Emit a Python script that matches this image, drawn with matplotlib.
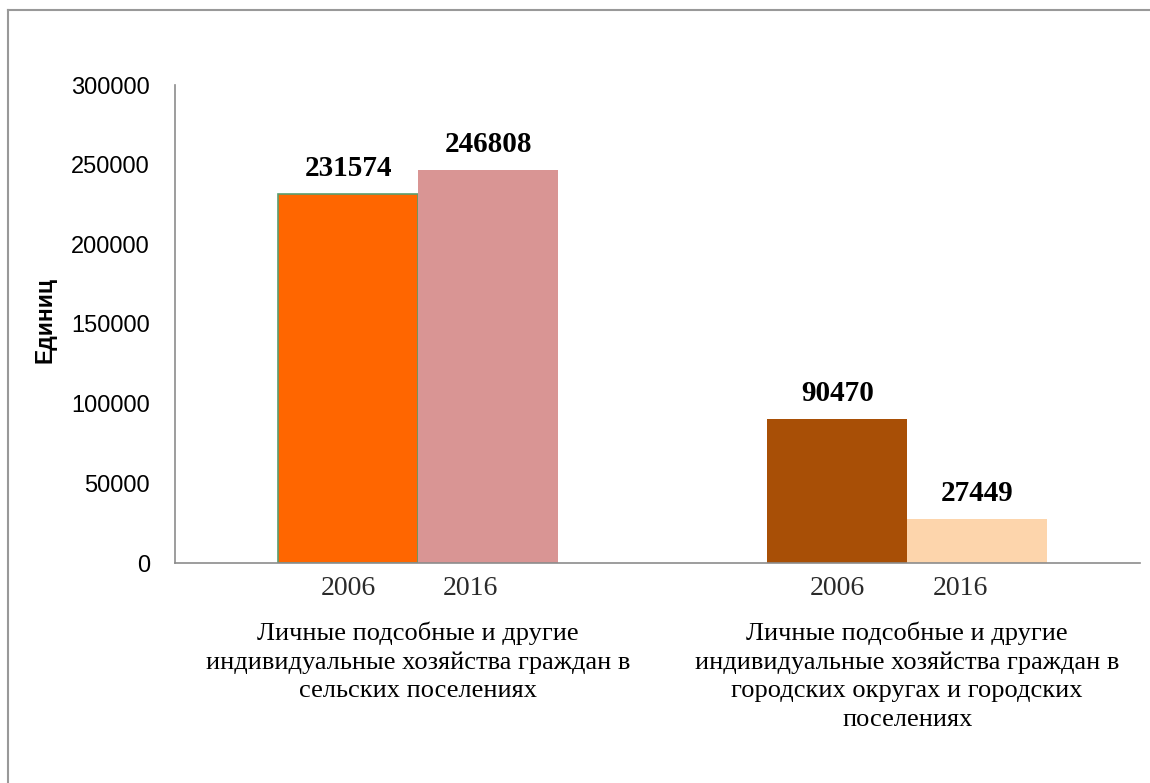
import numpy as np
import matplotlib.pyplot as plt

categories = [
    "Личные подсобные и другие\nиндивидуальные хозяйства граждан в\nсельских поселениях",
    "Личные подсобные и другие\nиндивидуальные хозяйства граждан в\nгородских округах и городских\nпоселениях",
]
years = ["2006", "2016"]
values = [[231574, 246808], [90470, 27449]]
colors = [["#FF6600", "#D99594"], ["#A84F06", "#FDD5AC"]]
yticks = [0, 50000, 100000, 150000, 200000, 250000, 300000]

fig = plt.figure(figsize=(11.5, 7.83), dpi=100)
ax = fig.add_axes([175 / 1150, 220 / 783, 965 / 1150, 478 / 783])

width = 0.286
offsets = [-width / 2, width / 2]
year_shift = [0.0, -0.035]

for i, cat in enumerate(categories):
    for j, yr in enumerate(years):
        x = i + offsets[j]
        v = values[i][j]
        edge = "#5A9E6F" if (i == 0 and j == 0) else colors[i][j]
        ax.bar(x, v, width=width, color=colors[i][j], edgecolor=edge,
               linewidth=1.2 if (i == 0 and j == 0) else 0)
        ax.annotate(str(v), xy=(x, v), xytext=(0, 13), textcoords="offset points",
                    ha="center", va="baseline", fontsize=21, fontweight="bold",
                    family="Liberation Serif")
        ax.annotate(yr, xy=(x + year_shift[j], 0), xycoords=("data", "data"),
                    xytext=(0, -18.5), textcoords="offset points",
                    ha="center", va="center", fontsize=20, family="Liberation Serif",
                    color="#2a2a2a")
    ax.annotate(cat, xy=(i, 0), xytext=(0, -42), textcoords="offset points",
                ha="center", va="top", fontsize=19, family="Liberation Serif",
                linespacing=1.38)

ax.set_xlim(-0.497, 1.476)
ax.set_ylim(0, 300000)
ax.set_yticks(yticks)
ax.set_yticklabels([str(t) for t in yticks], family="Liberation Sans", fontsize=17)
ax.tick_params(axis="y", length=0, pad=18)
ax.set_xticks([])
for s in ["top", "right"]:
    ax.spines[s].set_visible(False)
for s in ["left", "bottom"]:
    ax.spines[s].set_color("#8C8C8C")
    ax.spines[s].set_linewidth(1.2)

fig.text(45 / 1150, 1 - 320 / 783, "Единиц", rotation=90, ha="center", va="center",
         fontsize=16.5, fontweight="bold", family="Liberation Sans")

# outer frame (left and top edges visible)
fig.add_artist(plt.Line2D([8 / 1150, 8 / 1150], [0, 1 - 10 / 783], color="#999999", lw=1.5))
fig.add_artist(plt.Line2D([8 / 1150, 1], [1 - 10 / 783, 1 - 10 / 783], color="#999999", lw=1.5))

fig.savefig("out.png", dpi=100)
